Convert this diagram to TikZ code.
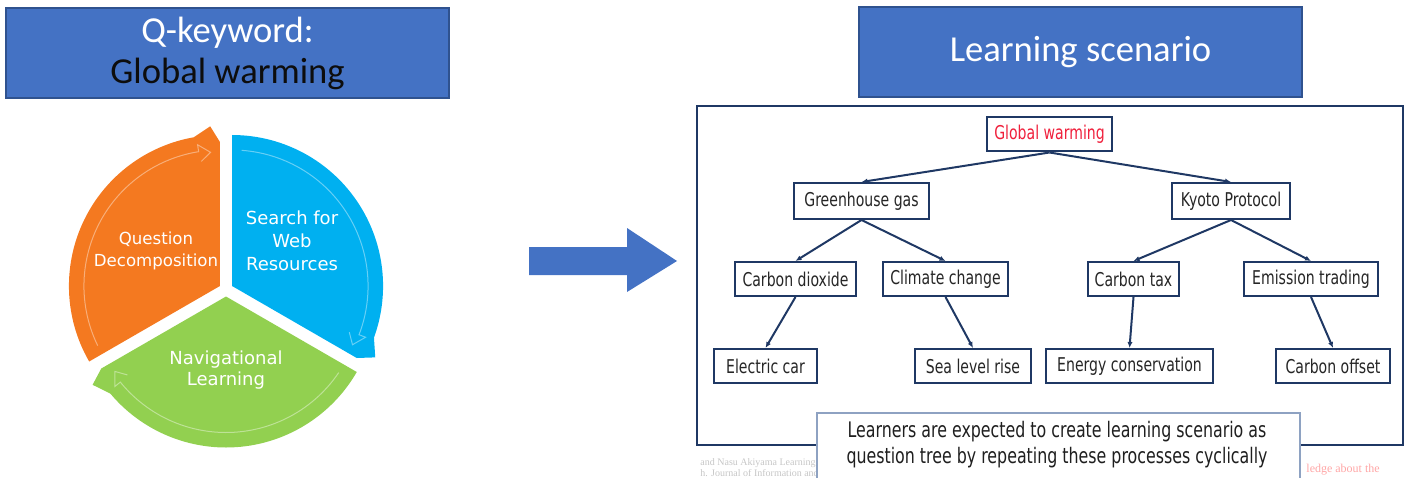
\documentclass[tikz,border=0pt]{standalone}
\usepackage{fontspec}
\setmainfont{Carlito}
\newfontfamily\cyclefont{DejaVu Sans}
\newfontfamily\treefont[FakeStretch=0.74]{DejaVu Sans}
\newfontfamily\notefont{Liberation Serif}
\usetikzlibrary{calc,arrows.meta}

\definecolor{titleblue}{HTML}{4472C4}
\definecolor{titleedge}{HTML}{2F528F}
\definecolor{segorange}{HTML}{F47920}
\definecolor{segblue}{HTML}{00B0F0}
\definecolor{seggreen}{HTML}{92D050}
\definecolor{navy}{HTML}{1F3864}
\definecolor{treetext}{HTML}{262626}
\definecolor{rootred}{HTML}{F0203C}
\definecolor{noteedge}{HTML}{8EA2C2}

\tikzset{
  titlebox/.style={draw=titleedge, line width=0.6pt, fill=titleblue,
    minimum width=221.5pt, minimum height=45pt, inner sep=0pt, align=center,
    font=\fontsize{18.3}{20.5}\selectfont},
  treebox/.style={draw=navy, line width=1pt, fill=white, inner sep=0pt,
    minimum height=17pt, text=treetext, font=\treefont\fontsize{9.5}{11}\selectfont},
  edge/.style={draw=navy, line width=1pt, -{Latex[length=3pt,width=2.6pt]}},
  segtext/.style={text=white, align=center, inner sep=0pt},
  innerline/.style={draw=white, draw opacity=0.4, line width=0.5pt}
}

\begin{document}
\begin{tikzpicture}[x=0.5pt,y=0.5pt]
\useasboundingbox (0,0) rectangle (1411,477);
\clip (0,0) rectangle (1411,477);

% ---- title boxes ----
\node[titlebox] (qkey) at (227.5,424) {\textcolor{white}{Q-keyword:}\\\textcolor[HTML]{0D0D0D}{Global warming}};
\node[titlebox, text=white] (scen) at (1080.5,425) {Learning scenario};

% ---- segmented cycle ----
\coordinate (C) at (226,187.5);
\coordinate (O1) at ($(C)+(150:7)$);
\coordinate (O2) at ($(C)+(30:7)$);
\coordinate (O3) at ($(C)+(270:7)$);

\fill[segorange] (O1) -- ($(O1)+(210:151)$) arc[start angle=210,end angle=100,radius=151]
  -- ($(O1)+(93.5:160)$) -- ($(O1)+(90:144)$) -- cycle;
\fill[segblue] (O2) -- ($(O2)+(90:151)$) arc[start angle=90,end angle=-20,radius=151]
  -- ($(O2)+(-26.5:160)$) -- ($(O2)+(-30:144)$) -- cycle;
\fill[seggreen] (O3) -- ($(O3)+(-30:151)$) arc[start angle=-30,end angle=-140,radius=151]
  -- ($(O3)+(-146.5:160)$) -- ($(O3)+(-150:144)$) -- cycle;

\draw[innerline] ($(O1)+(206:136)$) arc[start angle=206,end angle=99,radius=136]
  -- ($(O1)+(99:143)$) -- ($(O1)+(94:134)$) -- ($(O1)+(98.5:126)$);
\draw[innerline] ($(O2)+(86:136)$) arc[start angle=86,end angle=-21,radius=136]
  -- ($(O2)+(-21:143)$) -- ($(O2)+(-26:134)$) -- ($(O2)+(-21.5:126)$);
\draw[innerline] ($(O3)+(-34:136)$) arc[start angle=-34,end angle=-141,radius=136]
  -- ($(O3)+(-141:143)$) -- ($(O3)+(-146:134)$) -- ($(O3)+(-141.5:126)$);

\node[segtext, font=\cyclefont\fontsize{8.3}{11}\selectfont] (qd) at (156,226) {Question\\Decomposition};
\node[segtext, font=\cyclefont\fontsize{9}{11.5}\selectfont] (sw) at (292,236) {Search for\\Web\\Resources};
\node[segtext, font=\cyclefont\fontsize{9}{10.5}\selectfont] (nl) at (226,107) {Navigational\\Learning};

% ---- block arrow ----
\fill[titleblue] (529,230) -- (627,230) -- (627,249) -- (677,216) -- (627,185) -- (627,202) -- (529,202) -- cycle;

% ---- faint source lines under the frame ----
\node[anchor=west, inner sep=0pt, text=gray!45, font=\notefont\fontsize{5}{6}\selectfont] (src1) at (700,14) {and Nasu Akiyama Learning};
\node[anchor=west, inner sep=0pt, text=gray!45, font=\notefont\fontsize{5}{6}\selectfont] (src2) at (700,4) {h. Journal of Information and};
\node[anchor=west, inner sep=0pt, text=red!35, font=\notefont\fontsize{6}{7}\selectfont] (src3) at (1306,7) {ledge about the};

% ---- question tree frame ----
\draw[navy, line width=1.3pt] (697,371) rectangle (1403,32);

\node[treebox, minimum width=62.5pt, text=rootred] (gw) at (1049.5,342.5) {Global warming};
\node[treebox, minimum width=67.5pt, minimum height=18pt] (gh) at (861.5,276) {Greenhouse gas};
\node[treebox, minimum width=59pt, minimum height=18pt] (kp) at (1231,276) {Kyoto Protocol};
\node[treebox, minimum width=60.5pt] (cd) at (795.5,198) {Carbon dioxide};
\node[treebox, minimum width=62.5pt] (cc) at (945.5,198) {Climate change};
\node[treebox, minimum width=45.5pt] (ct) at (1133.5,198) {Carbon tax};
\node[treebox, minimum width=67pt] (et) at (1311,198) {Emission trading};
\node[treebox, minimum width=51.5pt] (ec) at (765.5,111) {Electric car};
\node[treebox, minimum width=58pt] (sl) at (973,111) {Sea level rise};
\node[treebox, minimum width=83.5pt] (en) at (1129.5,111) {Energy conservation};
\node[treebox, minimum width=57pt] (co) at (1333,111) {Carbon offset};

\draw[edge] (gw.south) -- (gh.north);
\draw[edge] (gw.south) -- (kp.north);
\draw[edge] (gh.south) -- (cd.north);
\draw[edge] (gh.south) -- (cc.north);
\draw[edge] (kp.south) -- (ct.north);
\draw[edge] (kp.south) -- (et.north);
\draw[edge] (cd.south) -- (ec.north);
\draw[edge] (cc.south) -- (sl.north);
\draw[edge] (ct.south) -- (en.north);
\draw[edge] (et.south) -- (co.north);

% ---- note box ----
\draw[noteedge, line width=0.8pt, fill=white] (817,-10) -- (817,64) -- (1300,64) -- (1300,-10);
\node[inner sep=0pt, align=center, text=black!88, font=\treefont\fontsize{10.7}{13}\selectfont] (note) at (1057,32)
  {Learners are expected to create learning scenario as\\question tree by repeating these processes cyclically};
\end{tikzpicture}
\end{document}
